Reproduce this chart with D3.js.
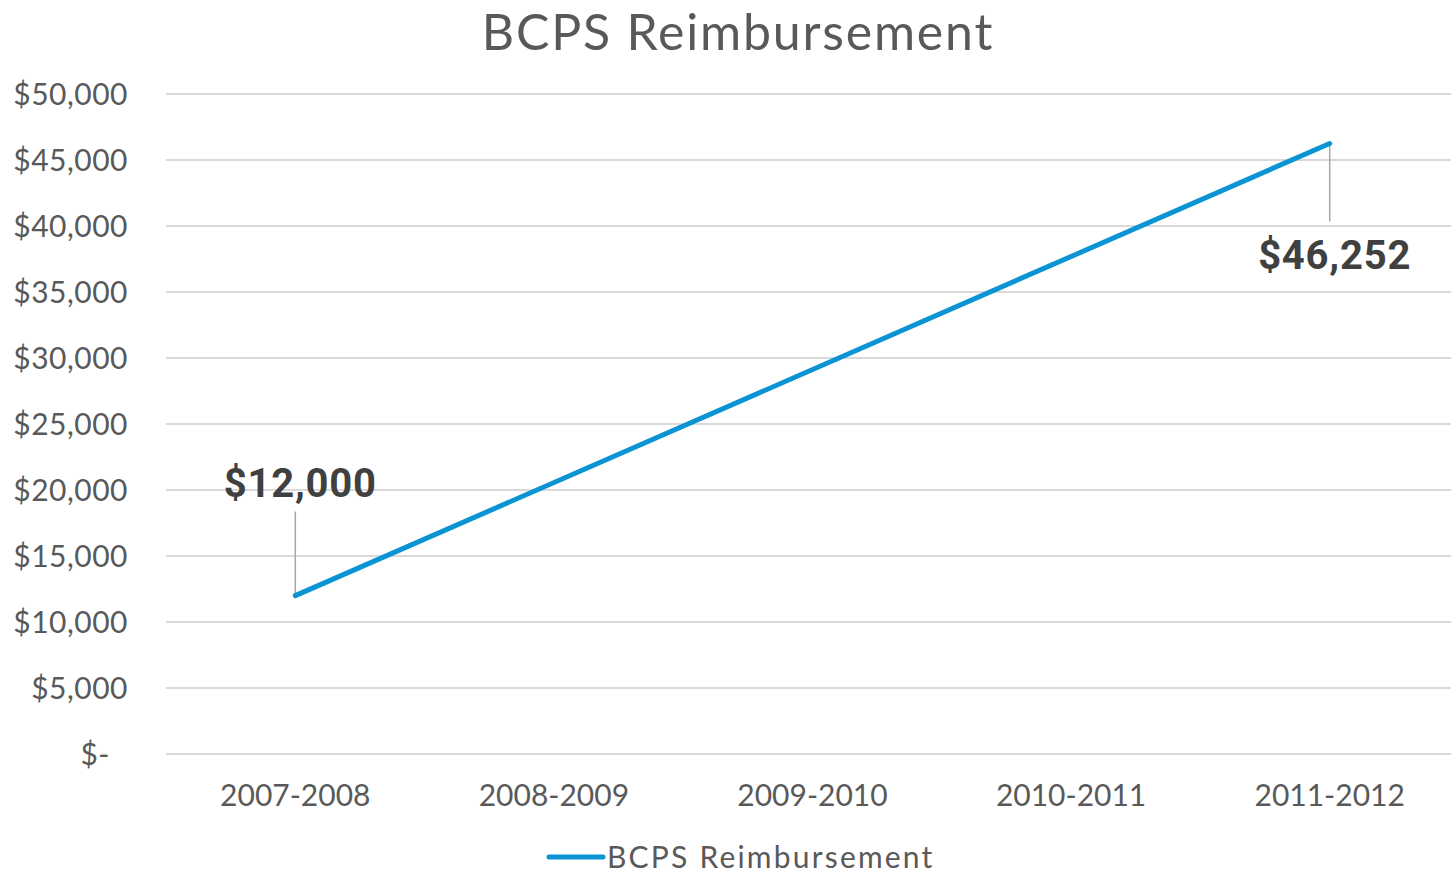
<!DOCTYPE html>
<html>
<head>
<meta charset="utf-8">
<script src="https://cdn.jsdelivr.net/npm/d3@7"></script>
<style>
  body { margin: 0; background: #fff; }
  text { font-family: "Century Gothic", "Lato", "Open Sans", sans-serif; }
</style>
</head>
<body>
<div id="chart"></div>
<script>
// data
var categories = ["2007-2008", "2008-2009", "2009-2010", "2010-2011", "2011-2012"];
var values = [12000, null, null, null, 46252];
var yTicks = [0, 5000, 10000, 15000, 20000, 25000, 30000, 35000, 40000, 45000, 50000];
var seriesName = "BCPS Reimbursement";
var chartTitle = "BCPS Reimbursement";

var W = 1451, H = 873;
var margin = {top: 94, right: -8, bottom: 119, left: 166};

var svg = d3.select("#chart").append("svg")
    .attr("width", W)
    .attr("height", H);

var x = d3.scaleBand()
    .domain(categories)
    .range([margin.left, W - margin.right]);

var y = d3.scaleLinear()
    .domain([0, 50000])
    .range([H - margin.bottom, margin.top]);

var fmt = d3.format(",");
function money(v) { return v === 0 ? "$-" : "$" + fmt(v); }

// gridlines
svg.append("g")
  .selectAll("line")
  .data(yTicks)
  .enter().append("line")
    .attr("x1", margin.left)
    .attr("x2", W)
    .attr("y1", function(d) { return y(d); })
    .attr("y2", function(d) { return y(d); })
    .style("stroke", "#d9d9d9")
    .style("stroke-width", 2);

// y labels (accounting format pads the dash)
svg.append("g")
  .selectAll("text")
  .data(yTicks)
  .enter().append("text")
    .attr("x", function(d) { return d === 0 ? 110 : 128; })
    .attr("y", function(d) { return y(d); })
    .attr("dy", "0.36em")
    .style("text-anchor", "end")
    .style("font-size", "30px")
    .style("letter-spacing", "0.5px")
    .style("fill", "#595959")
    .text(money);

// x labels
svg.append("g")
  .selectAll("text")
  .data(categories)
  .enter().append("text")
    .attr("x", function(d) { return x(d) + x.bandwidth() / 2; })
    .attr("y", 806)
    .style("text-anchor", "middle")
    .style("font-size", "30px")
    .style("fill", "#595959")
    .text(function(d) { return d; });

// title
svg.append("text")
    .attr("x", 738)
    .attr("y", 50)
    .style("text-anchor", "middle")
    .style("font-size", "50px")
    .style("letter-spacing", "1.8px")
    .style("fill", "#595959")
    .text(chartTitle);

var pts = categories.map(function(c, i) { return {cat: c, v: values[i]}; })
    .filter(function(p) { return p.v != null; });

var line = d3.line()
    .x(function(p) { return x(p.cat) + x.bandwidth() / 2; })
    .y(function(p) { return y(p.v); });

// leader lines + data labels (first above, last below)
pts.forEach(function(p, i) {
  var cx = x(p.cat) + x.bandwidth() / 2, cy = y(p.v);
  var above = i === 0;
  svg.append("line")
      .attr("x1", cx).attr("x2", cx)
      .attr("y1", cy)
      .attr("y2", above ? cy - 84 : cy + 78)
      .style("stroke", "#a6a6a6")
      .style("stroke-width", 1.5);
  svg.append("text")
      .attr("x", cx + 5)
      .attr("y", above ? cy - 99 : cy + 126)
      .style("text-anchor", "middle")
      .style("font-family", "Roboto, sans-serif")
      .style("font-weight", "bold")
      .style("font-size", "40px")
      .style("letter-spacing", "0.8px")
      .style("fill", "#404040")
      .text(money(p.v));
});

svg.append("path")
    .datum(pts)
    .attr("d", line)
    .style("fill", "none")
    .style("stroke", "#0a94d3")
    .style("stroke-width", 5)
    .style("stroke-linecap", "round");

// legend
var lg = svg.append("g").attr("transform", "translate(549,857)");
lg.append("line")
    .attr("x1", 0).attr("x2", 54)
    .style("stroke", "#0a94d3")
    .style("stroke-width", 5)
    .style("stroke-linecap", "round");
lg.append("text")
    .attr("x", 58)
    .attr("dy", "0.36em")
    .style("font-size", "30px")
    .style("letter-spacing", "2.2px")
    .style("fill", "#595959")
    .text(seriesName);
</script>
</body>
</html>
